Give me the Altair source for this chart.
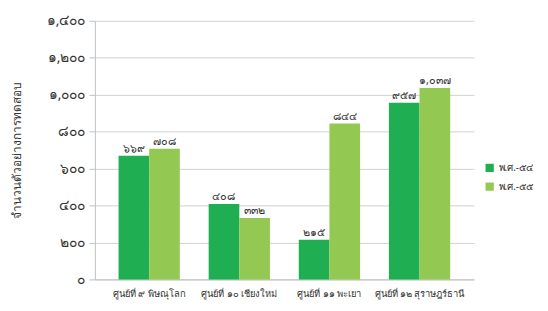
import altair as alt
import pandas as pd

centers = ["ศูนย์ที่ ๙ พิษณุโลก", "ศูนย์ที่ ๑๐ เชียงใหม่", "ศูนย์ที่ ๑๑ พะเยา", "ศูนย์ที่ ๑๒ สุราษฎร์ธานี"]
years = ["พ.ศ.-๕๔", "พ.ศ.-๕๕"]
values_54 = [669, 408, 215, 957]
values_55 = [708, 332, 844, 1037]
y_ticks = [0, 200, 400, 600, 800, 1000, 1200, 1400]
colors = ["#1fae52", "#93c953"]

thai_digits = "๐๑๒๓๔๕๖๗๘๙"
def to_thai(n):
    s = f"{n:,}"
    return "".join(thai_digits[int(c)] if c.isdigit() else c for c in s)

rows = []
for c, a, b in zip(centers, values_54, values_55):
    rows.append({"center": c, "year": years[0], "value": a, "label": to_thai(a)})
    rows.append({"center": c, "year": years[1], "value": b, "label": to_thai(b)})
df = pd.DataFrame(rows)

expr = "datum.label"
for d in range(10):
    expr = f"replace({expr}, regexp('{d}', 'g'), '{thai_digits[d]}')"
label_expr = expr

font = "Noto Sans"

y_enc = alt.Y("value:Q", title="จำนวนตัวอย่างการทดสอบ",
              scale=alt.Scale(domain=[0, 1400]),
              axis=alt.Axis(values=y_ticks, labelExpr=label_expr, labelOverlap=False,
                            labelFontSize=14, labelColor="#333333", domainColor="#bfbfbf",
                            gridColor="#d0d0d0", tickColor="#bfbfbf", tickSize=6, labelPadding=4,
                            titleFontSize=12, titleFontWeight="normal", titleColor="#333333",
                            titlePadding=21, labelFont=font, titleFont=font))

base = alt.Chart(df).encode(
    x=alt.X("center:N", sort=centers, title=None,
            scale=alt.Scale(paddingInner=0.32, paddingOuter=0.263),
            axis=alt.Axis(labelAngle=0, labelFontSize=9.5, labelColor="#333333", domainColor="#bfbfbf",
                          ticks=False, labelPadding=9, labelFont=font)),
    xOffset=alt.XOffset("year:N", sort=years),
    y=y_enc,
)

bars = base.mark_bar().encode(
    color=alt.Color("year:N", sort=years, scale=alt.Scale(domain=years, range=colors),
                    legend=alt.Legend(title=None, orient="none", legendX=395, legendY=144,
                                      symbolType="square", symbolSize=70, labelFontSize=10,
                                      labelColor="#333333", rowPadding=9, labelFont=font)),
)

text = base.mark_text(dy=-7, fontSize=11, color="#333333", font=font).encode(
    text="label:N",
)

chart = (bars + text).properties(
    width=384, height=262,
    autosize=alt.AutoSizeParams(type="none"),
    padding={"left": 88, "top": 11, "right": 67, "bottom": 30},
).configure_view(stroke=None)

chart.save("out.html", embed_options={"renderer": "svg", "actions": False})
